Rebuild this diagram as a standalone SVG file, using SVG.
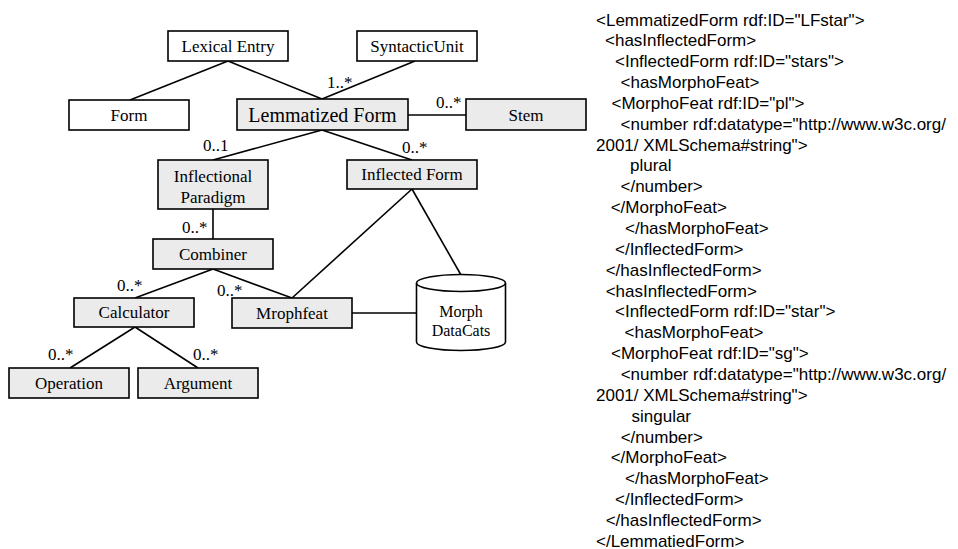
<svg xmlns="http://www.w3.org/2000/svg" width="958" height="549" viewBox="0 0 958 549">
<style>
.box{fill:#fff;stroke:#000;stroke-width:1.6}
.gbox{fill:#ebebeb;stroke:#000;stroke-width:1.6}
.t{font-family:"Liberation Serif","Times New Roman",serif;font-size:17px;fill:#000;text-anchor:middle}
.lbl{font-family:"Liberation Serif","Times New Roman",serif;font-size:17px;fill:#000}
.ln{stroke:#000;stroke-width:1.6;fill:none}
.code{font-family:"Liberation Sans",Arial,sans-serif;font-size:17px;fill:#000}
</style>
<rect width="958" height="549" fill="#fff"/>
<g id="connectors">
<line class="ln" x1="228" y1="61" x2="130" y2="100"/>
<line class="ln" x1="228" y1="61" x2="322" y2="99"/>
<line class="ln" x1="415" y1="61" x2="322" y2="99"/>
<line class="ln" x1="408" y1="115" x2="466" y2="115"/>
<line class="ln" x1="322" y1="130" x2="213" y2="160"/>
<line class="ln" x1="322" y1="130" x2="412" y2="160"/>
<line class="ln" x1="213" y1="209" x2="213" y2="239"/>
<line class="ln" x1="213" y1="269" x2="135" y2="298"/>
<line class="ln" x1="213" y1="269" x2="292" y2="298"/>
<line class="ln" x1="412" y1="189" x2="292" y2="298"/>
<line class="ln" x1="412" y1="189" x2="461" y2="275"/>
<line class="ln" x1="352" y1="313" x2="417" y2="313"/>
<line class="ln" x1="135" y1="327" x2="70" y2="368"/>
<line class="ln" x1="135" y1="327" x2="198" y2="368"/>
<text class="lbl" x="327" y="88">1..*</text>
<text class="lbl" x="436" y="108">0..*</text>
<text class="lbl" x="402" y="153">0..*</text>
<text class="lbl" x="203" y="151">0..1</text>
<text class="lbl" x="182" y="233">0..*</text>
<text class="lbl" x="117" y="290.5">0..*</text>
<text class="lbl" x="217" y="295.5">0..*</text>
<text class="lbl" x="48" y="360">0..*</text>
<text class="lbl" x="193" y="360">0..*</text>
</g>
<g id="lexical-entry"><rect class="box" x="168" y="31" width="120" height="30"/><text class="t" x="228" y="51.5">Lexical Entry</text></g>
<g id="syntactic-unit"><rect class="box" x="357" y="31" width="120" height="30"/><text class="t" x="417" y="51.5">SyntacticUnit</text></g>
<g id="form"><rect class="box" x="69" y="100" width="120" height="30"/><text class="t" x="129" y="120.5">Form</text></g>
<g id="lemmatized-form"><rect class="gbox" x="237" y="99" width="171" height="31"/><text class="t" x="322.5" y="121.5" style="font-size:20px">Lemmatized Form</text></g>
<g id="stem"><rect class="gbox" x="466" y="99" width="120" height="31"/><text class="t" x="526" y="120.5">Stem</text></g>
<g id="inflectional-paradigm"><rect class="gbox" x="158" y="160" width="110" height="49"/><text class="t" x="213" y="181.5">Inflectional</text><text class="t" x="213" y="203">Paradigm</text></g>
<g id="inflected-form"><rect class="gbox" x="347" y="160" width="130" height="29"/><text class="t" x="412" y="180">Inflected Form</text></g>
<g id="combiner"><rect class="gbox" x="153" y="239" width="120" height="30"/><text class="t" x="213" y="259.5">Combiner</text></g>
<g id="calculator"><rect class="gbox" x="74" y="298" width="120" height="29"/><text class="t" x="134" y="318">Calculator</text></g>
<g id="mrophfeat"><rect class="gbox" x="232" y="298" width="120" height="30"/><text class="t" x="292" y="318.5">Mrophfeat</text></g>
<g id="operation"><rect class="gbox" x="9" y="368" width="120" height="30"/><text class="t" x="69" y="388.5">Operation</text></g>
<g id="argument"><rect class="gbox" x="138" y="368" width="120" height="30"/><text class="t" x="198" y="388.5">Argument</text></g>
<g id="morph-datacats">
<path class="box" d="M416.5,283 L416.5,342 A44.5,8.5 0 0 0 505.5,342 L505.5,283"/>
<ellipse class="box" cx="461" cy="283" rx="44.5" ry="8.5"/>
<text class="t" x="461" y="316.5" style="font-size:16px">Morph</text>
<text class="t" x="461" y="336" style="font-size:16px">DataCats</text>
</g>
<g id="rdf-code" class="code">
<text x="596" y="25.5">&lt;LemmatizedForm rdf:ID="LFstar"&gt;</text>
<text x="605" y="46.35">&lt;hasInflectedForm&gt;</text>
<text x="615" y="67.2">&lt;InflectedForm rdf:ID="stars"&gt;</text>
<text x="620.5" y="88.05">&lt;hasMorphoFeat&gt;</text>
<text x="611.5" y="108.9">&lt;MorphoFeat rdf:ID="pl"&gt;</text>
<text x="620.5" y="129.75">&lt;number rdf:datatype="http://www.w3c.org/</text>
<text x="596" y="150.6">2001/ XMLSchema#string"&gt;</text>
<text x="630" y="171.45">plural</text>
<text x="620.5" y="192.3">&lt;/number&gt;</text>
<text x="610.7" y="213.15">&lt;/MorphoFeat&gt;</text>
<text x="625" y="234">&lt;/hasMorphoFeat&gt;</text>
<text x="615" y="254.85">&lt;/InflectedForm&gt;</text>
<text x="605.7" y="275.7">&lt;/hasInflectedForm&gt;</text>
<text x="605.7" y="296.55">&lt;hasInflectedForm&gt;</text>
<text x="615" y="317.4">&lt;InflectedForm rdf:ID="star"&gt;</text>
<text x="624.5" y="338.25">&lt;hasMorphoFeat&gt;</text>
<text x="611" y="359.1">&lt;MorphoFeat rdf:ID="sg"&gt;</text>
<text x="620.7" y="379.95">&lt;number rdf:datatype="http://www.w3c.org/</text>
<text x="596" y="400.8">2001/ XMLSchema#string"&gt;</text>
<text x="631.5" y="421.65">singular</text>
<text x="620.7" y="442.5">&lt;/number&gt;</text>
<text x="610.7" y="463.35">&lt;/MorphoFeat&gt;</text>
<text x="625" y="484.2">&lt;/hasMorphoFeat&gt;</text>
<text x="615" y="505.05">&lt;/InflectedForm&gt;</text>
<text x="605.7" y="525.9">&lt;/hasInflectedForm&gt;</text>
<text x="596" y="546.75">&lt;/LemmatiedForm&gt;</text>
</g>
</svg>
